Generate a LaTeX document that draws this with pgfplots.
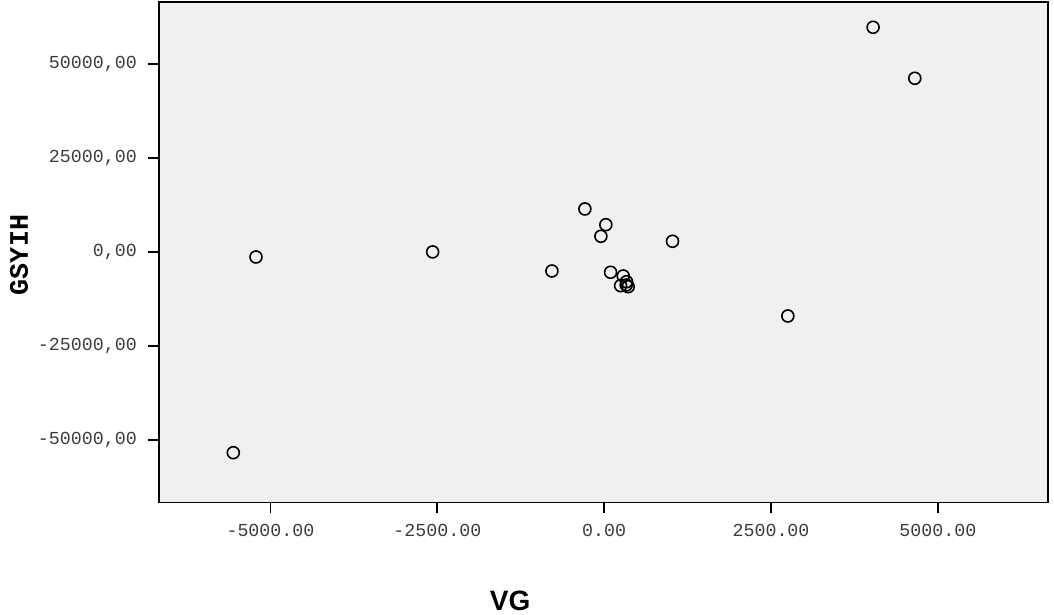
\documentclass[border=0pt]{standalone}
\usepackage{pgfplots}
\pgfplotsset{compat=1.18}
\usepackage{fontspec}
\setmainfont{Liberation Sans}
\newfontfamily\monofont{Liberation Mono}
\definecolor{bgc}{RGB}{240,240,240}
\definecolor{tkc}{RGB}{60,60,60}
\begin{document}
\begin{tikzpicture}
\path[use as bounding box] (0,0) rectangle (1054pt,615pt);
\begin{axis}[
  at={(159pt,112.3pt)}, anchor=south west,
  scale only axis, width=889pt, height=500.7pt,
  xmin=-6670, xmax=6650, ymin=-66600, ymax=66570,
  scaled ticks=false,
  axis background/.style={fill=bgc},
  axis line style={line width=1.6pt, black},
  tick style={line width=1.8pt, black},
  every tick/.append style={line width=1.8pt, black},
  tick align=outside, major tick length=10.7pt,
  xtick pos=bottom, ytick pos=left,
  xtick={-5000,-2500,0,2500,5000},
  xticklabels={{-5000.00},{-2500.00},{0.00},{2500.00},{5000.00}},
  ytick={-50000,-25000,0,25000,50000},
  yticklabels={{-50000,00},{-25000,00},{0,00},{25000,00},{50000,00}},
  ticklabel style={font=\monofont\fontsize{18.3}{20}\selectfont, text=tkc},
  xticklabel style={yshift=-7pt},
  yticklabel style={xshift=-8pt},
  xlabel={VG},
  xlabel style={font=\bfseries\fontsize{28}{30}\selectfont, at={(axis description cs:0.395,-0.196)}, anchor=center},
  ylabel={GSYIH},
  ylabel style={font=\monofont\bfseries\fontsize{26.7}{28}\selectfont, at={(axis description cs:-0.1575,0.4947)}, anchor=center, rotate=0},
  clip=false,
]
\addplot[only marks, mark=o, mark size=6pt, mark options={line width=1.6pt, black}] coordinates {
(-5557,-53300)
(-5217,-1250)
(-2570,100)
(-783,-4973)
(-289,11516)
(25,7340)
(-49,4255)
(1024,2926)
(96,-5319)
(285,-6303)
(246,-8883)
(335,-7819)
(360,-9149)
(330,-8700)
(2752,-16941)
(4029,59840)
(4654,46277)
};
\end{axis}
\end{tikzpicture}
\end{document}
